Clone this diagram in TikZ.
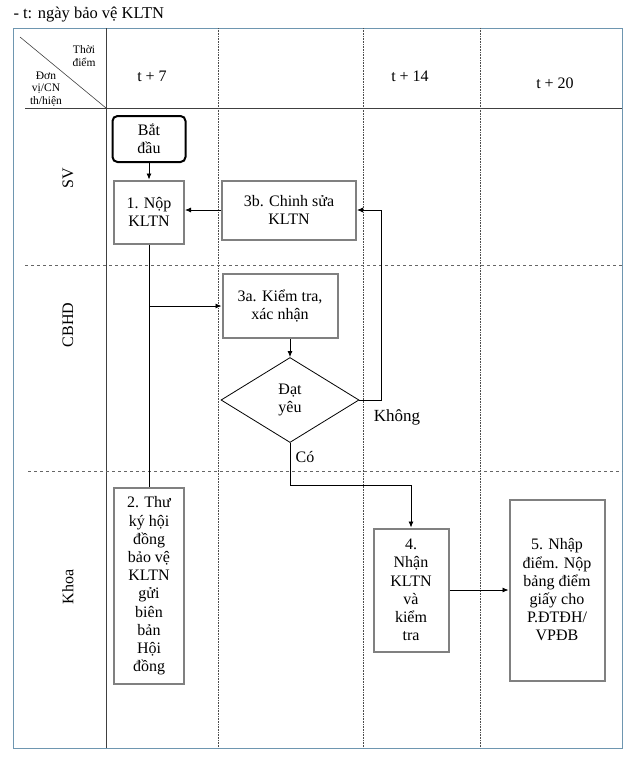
\documentclass[tikz,border=0pt]{standalone}
\usepackage{fontspec}
\setmainfont{Liberation Serif}
\usetikzlibrary{shapes.geometric,arrows.meta}
\definecolor{framecol}{RGB}{110,150,176}
\definecolor{boxgray}{RGB}{128,128,128}
\tikzset{
  stepbox/.style={draw=boxgray, line width=2pt, align=center, inner sep=2pt,
    font=\fontsize{16}{18.2}\selectfont},
  startbox/.style={stepbox, draw=black, rounded corners=5pt},
  decision/.style={diamond, draw, line width=0.8pt, align=center, inner sep=0pt,
    minimum width=138pt, minimum height=85pt, font=\fontsize{16}{18.2}\selectfont},
  flow/.style={line width=0.8pt, -{Latex[length=6pt,width=5pt]}},
  link/.style={line width=0.8pt},
  lane/.style={rotate=90, font=\fontsize{16}{18}\selectfont},
  head/.style={font=\fontsize{16}{18}\selectfont}
}
\begin{document}
\begin{tikzpicture}[x=1pt,y=-1pt]
\useasboundingbox (0,0) rectangle (632,761);
% Note above the table
\node[anchor=west, font=\fontsize{16.5}{19}\selectfont] (note) at (10,15) {- t: ngày bảo vệ KLTN};
% Draw the table
\draw[framecol, line width=1pt] (13,28) rectangle (622,748);
\draw[black!75, line width=0.8pt] (25,108) -- (622,108);
\draw[black!75, line width=0.8pt] (106,28) -- (106,748);
\draw[black!75, line width=0.6pt] (20,37) -- (106,108);
\foreach \x in {218,363,480}
{
  \draw[black!70, densely dotted, line width=0.6pt] (\x,28) -- (\x,748);
}
\draw[black!60, dashed, line width=0.6pt] (25,265) -- (622,265);
\draw[black!60, dashed, line width=0.6pt] (28,471) -- (622,471);
% Header texts
\node[align=center, font=\fontsize{11.5}{12.5}\selectfont] (tdiem) at (84,56) {Thời\\điểm};
\node[align=center, font=\fontsize{11.5}{12.5}\selectfont] (dvi) at (46,89) {Đơn\\vị/CN\\th/hiện};
\node[head] (t7) at (152,76) {t + 7};
\node[head] (t14) at (410,76) {t + 14};
\node[head] (t20) at (555,83) {t + 20};
% Lanes
\node[lane] (sv) at (68,178) {SV};
\node[lane] (cbhd) at (68,325) {CBHD};
\node[lane] (khoa) at (68,587) {Khoa};
% Steps
\node[startbox, minimum width=73pt, minimum height=46pt] (start) at (149,139) {Bắt\\đầu};
\node[stepbox, minimum width=70pt, minimum height=63pt] (n1) at (149,212) {1. Nộp\\KLTN};
\node[stepbox, minimum width=134pt, minimum height=59pt] (n3b) at (289,210) {3b. Chinh sửa\\KLTN};
\node[stepbox, minimum width=115pt, minimum height=64pt] (n3a) at (280,306) {3a. Kiểm tra,\\xác nhận};
\node[decision] (dec) at (290,400) {Đạt\\yêu};
\node[stepbox, minimum width=70pt, minimum height=196pt] (n2) at (149,586)
  {2. Thư\\ký hội\\đồng\\bảo vệ\\KLTN\\gửi\\biên\\bản\\Hội\\đồng};
\node[stepbox, minimum width=75pt, minimum height=123pt] (n4) at (411,590)
  {4.\\Nhận\\KLTN\\và\\kiểm\\tra};
\node[stepbox, minimum width=95pt, minimum height=181pt] (n5) at (557,590)
  {5. Nhập\\điểm. Nộp\\bảng điểm\\giấy cho\\P.ĐTĐH/\\VPĐB};
% Connectors
\coordinate (br) at (149,306);
\coordinate (kb) at (381,400);
\coordinate (cb) at (411,485);
\draw[flow] (start) -- (n1);
\draw[flow] (n3b.west) -- (n3b.west -| n1.east);
\draw[link] (n1.south) -- (n2.north);
\draw[flow] (br) -- (n3a.west);
\draw[flow] (n3a.south -| dec.north) -- (dec.north);
\draw[flow] (dec.east) -- (kb) |- (n3b.east);
\draw[flow] (dec.south) |- (cb) -- (n4.north);
\draw[flow] (n4) -- (n5);
% Answers
\node[font=\fontsize{17}{18}\selectfont] (khong) at (397,417) {Không};
\node[font=\fontsize{16}{18}\selectfont] (co) at (305,457) {Có};
\end{tikzpicture}
\end{document}
